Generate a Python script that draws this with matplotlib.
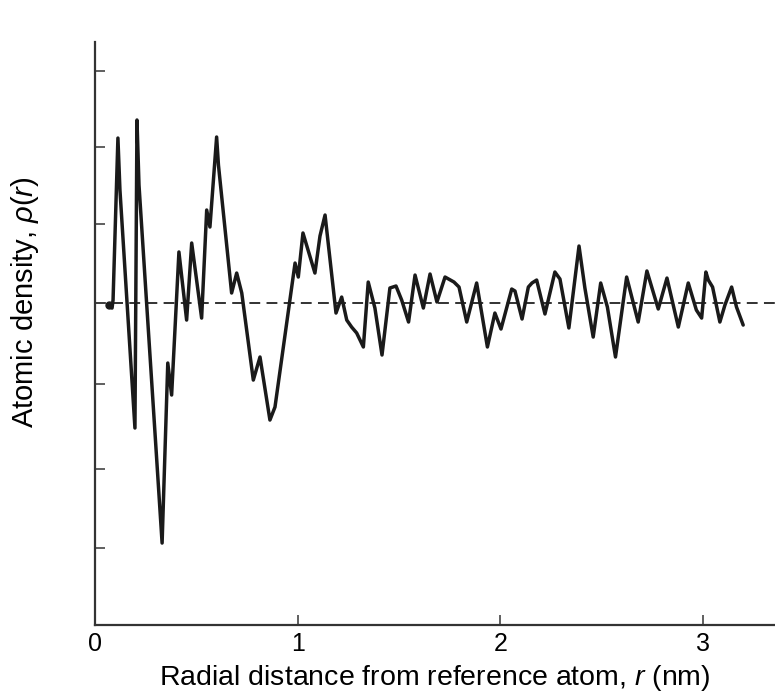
import matplotlib
matplotlib.use("Agg")
import matplotlib.pyplot as plt

plt.rcParams['font.family'] = ['Liberation Sans', 'DejaVu Sans']
plt.rcParams['mathtext.fontset'] = 'custom'
plt.rcParams['mathtext.it'] = 'Liberation Sans:italic'
plt.rcParams['mathtext.rm'] = 'Liberation Sans'

# Radial distance r (nm) and atomic density rho(r) (arbitrary units, mean density = 4)
r_nm = [0.069, 0.084, 0.089, 0.113, 0.123, 0.197, 0.207, 0.217, 0.331, 0.359,
        0.378, 0.414, 0.452, 0.477, 0.526, 0.551, 0.567, 0.600, 0.609, 0.674,
        0.699, 0.724, 0.781, 0.814, 0.863, 0.888, 0.987, 1.003, 1.026, 1.085,
        1.110, 1.135, 1.189, 1.217, 1.242, 1.266, 1.291, 1.324, 1.348, 1.381,
        1.416, 1.455, 1.485, 1.513, 1.547, 1.579, 1.620, 1.653, 1.687, 1.727,
        1.771, 1.796, 1.834, 1.883, 1.936, 1.973, 2.003, 2.056, 2.072, 2.107,
        2.138, 2.156, 2.179, 2.220, 2.269, 2.294, 2.338, 2.388, 2.417, 2.458,
        2.495, 2.528, 2.568, 2.623, 2.680, 2.723, 2.779, 2.822, 2.878, 2.927,
        2.967, 2.993, 3.014, 3.026, 3.047, 3.083, 3.108, 3.141, 3.165, 3.198]
density = [3.975, 3.937, 4.038, 6.075, 5.421, 2.428, 6.302, 5.484, 0.981, 3.245,
           2.843, 4.642, 3.786, 4.755, 3.811, 5.170, 4.956, 6.088, 5.736, 4.126,
           4.377, 4.126, 3.031, 3.321, 2.528, 2.692, 4.503, 4.327, 4.881, 4.377,
           4.843, 5.107, 3.874, 4.075, 3.786, 3.698, 3.623, 3.447, 4.264, 3.937,
           3.346, 4.189, 4.214, 4.038, 3.761, 4.352, 3.937, 4.365, 4.013, 4.327,
           4.264, 4.201, 3.761, 4.252, 3.447, 3.874, 3.673, 4.176, 4.151, 3.799,
           4.201, 4.252, 4.289, 3.862, 4.390, 4.302, 3.686, 4.717, 4.189, 3.572,
           4.252, 3.950, 3.321, 4.327, 3.761, 4.403, 3.925, 4.314, 3.698, 4.252,
           3.912, 3.811, 4.390, 4.289, 4.201, 3.761, 3.975, 4.201, 3.950, 3.723]
mean_density = 4.0

x_ticks = [0, 1, 2, 3]
x_tick_labels = ['0', '1', '2', '3']
y_ticks = [0.92, 1.91, 2.98, 4.0, 4.99, 5.96, 6.92]

fig = plt.figure(figsize=(7.75, 6.97), dpi=100)
ax = fig.add_axes([0.1226, 0.1033, 0.8774, 0.8364])

ax.axhline(mean_density, color='#222222', lw=1.3, dashes=(6, 3.5), zorder=1)
ax.plot(r_nm, density, color='#1a1a1a', lw=2.5, solid_joinstyle='round',
        solid_capstyle='round', marker='o', markevery=[0], ms=5, zorder=2)

ax.set_xlim(0, 3.355)
ax.set_ylim(-0.05, 7.283)

for side in ('top', 'right'):
    ax.spines[side].set_visible(False)
for side in ('left', 'bottom'):
    ax.spines[side].set_linewidth(1.6)
    ax.spines[side].set_color('#333333')

ax.set_xticks(x_ticks)
ax.set_xticklabels(x_tick_labels, fontsize=18)
ax.set_yticks(y_ticks)
ax.set_yticklabels([])
ax.tick_params(axis='both', direction='in', length=7, width=1.2, color='#444444')
ax.tick_params(axis='x', pad=5)

fig.text((95 + 775) / 2 / 775, 1 - 678 / 697,
         'Radial distance from reference atom, $r$ (nm)', fontsize=20.5,
         ha='center', va='center')
fig.text(0.032, (697 - 302) / 697, r'Atomic density, $\rho(r)$', fontsize=21,
         rotation=90, ha='center', va='center')

fig.savefig('out.png', dpi=100)
